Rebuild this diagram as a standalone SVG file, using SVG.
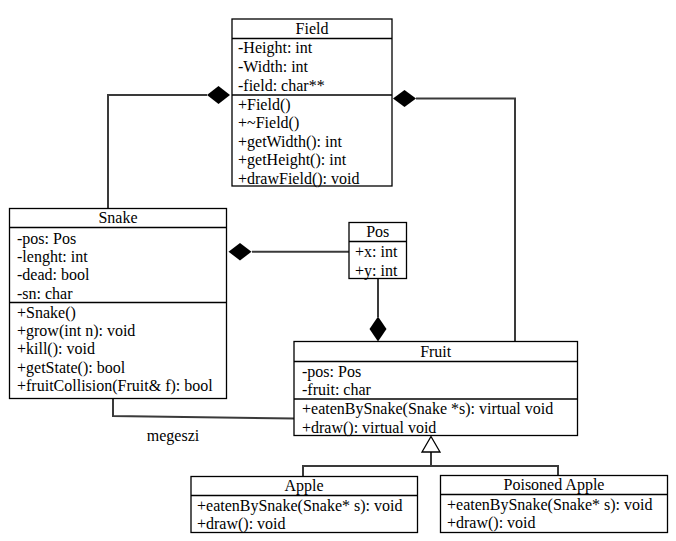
<svg xmlns="http://www.w3.org/2000/svg" width="676" height="541" viewBox="0 0 676 541">
<style>
.box{fill:#fff;stroke:#000;stroke-width:1.3}
.div{stroke:#000;stroke-width:1.3}
text{font-family:"Liberation Serif","Times New Roman",serif;font-size:16px;fill:#000}
.c{text-anchor:middle}
.ln{fill:none;stroke:#3a3a3a;stroke-width:2}
.dia{fill:#000;stroke:none}
</style>
<rect width="676" height="541" fill="#fff"/>
<g id="connectors">
<polyline class="ln" points="207,95 108,95 108,209"/>
<path class="dia" d="M207,95 L218.5,86 L230,95 L218.5,104 Z"/>
<polyline class="ln" points="416,98.5 515,98.5 515,342"/>
<path class="dia" d="M393,98.5 L404.5,90 L416,98.5 L404.5,107 Z"/>
<line class="ln" x1="252" y1="251.7" x2="349" y2="251.7"/>
<path class="dia" d="M228.5,251.7 L240,243 L251.5,251.7 L240,260.4 Z"/>
<line class="ln" x1="378" y1="278" x2="378" y2="317"/>
<path class="dia" d="M378,316.5 L386.5,329 L378,341.5 L369.5,329 Z"/>
<polyline class="ln" points="113,398 113,416 294,418.5"/>
<text class="c" x="173" y="440.5">megeszi</text>
<polyline class="ln" points="303,477 303,466 558,466 558,476"/>
<line class="ln" x1="431" y1="466" x2="431" y2="452"/>
<path d="M431,436.5 L440,452 L422,452 Z" fill="#fff" stroke="#000" stroke-width="1.3"/>
</g>
<g id="Field">
<rect class="box" x="232" y="19" width="160" height="167"/>
<line class="div" x1="232" y1="38.5" x2="392" y2="38.5"/>
<line class="div" x1="232" y1="95" x2="392" y2="95"/>
<text class="c" x="312" y="33.5">Field</text>
<text x="238" y="53">-Height: int</text>
<text x="238" y="72">-Width: int</text>
<text x="238" y="90.5">-field: char**</text>
<text x="238" y="109.5">+Field()</text>
<text x="238" y="128">+~Field()</text>
<text x="238" y="146.5">+getWidth(): int</text>
<text x="238" y="165">+getHeight(): int</text>
<text x="238" y="183.5">+drawField(): void</text>
</g>
<g id="Snake">
<rect class="box" x="9.5" y="208.5" width="217" height="190"/>
<line class="div" x1="9.5" y1="227.5" x2="226.5" y2="227.5"/>
<line class="div" x1="9.5" y1="302.5" x2="226.5" y2="302.5"/>
<text class="c" x="118" y="223">Snake</text>
<text x="17" y="243.5">-pos: Pos</text>
<text x="17" y="262">-lenght: int</text>
<text x="17" y="280">-dead: bool</text>
<text x="17" y="298.5">-sn: char</text>
<text x="17" y="318">+Snake()</text>
<text x="17" y="336">+grow(int n): void</text>
<text x="17" y="354">+kill(): void</text>
<text x="17" y="372.5">+getState(): bool</text>
<text x="17" y="390.5">+fruitCollision(Fruit&amp; f): bool</text>
</g>
<g id="Pos">
<rect class="box" x="349" y="222.5" width="57.5" height="56"/>
<line class="div" x1="349" y1="241.5" x2="406.5" y2="241.5"/>
<text class="c" x="377.7" y="237">Pos</text>
<text x="355" y="257">+x: int</text>
<text x="355" y="275.5">+y: int</text>
</g>
<g id="Fruit">
<rect class="box" x="294" y="341.5" width="283.5" height="94"/>
<line class="div" x1="294" y1="361.5" x2="577.5" y2="361.5"/>
<line class="div" x1="294" y1="399" x2="577.5" y2="399"/>
<text class="c" x="435.7" y="357">Fruit</text>
<text x="302" y="377">-pos: Pos</text>
<text x="302" y="394.5">-fruit: char</text>
<text x="302" y="414">+eatenBySnake(Snake *s): virtual void</text>
<text x="302" y="432.5">+draw(): virtual void</text>
</g>
<g id="Apple">
<rect class="box" x="191" y="476.5" width="226.5" height="56"/>
<line class="div" x1="191" y1="495.5" x2="417.5" y2="495.5"/>
<text class="c" x="304" y="491">Apple</text>
<text x="197" y="510.5">+eatenBySnake(Snake* s): void</text>
<text x="197" y="528.5">+draw(): void</text>
</g>
<g id="PoisonedApple">
<rect class="box" x="440.5" y="475.5" width="227" height="57"/>
<line class="div" x1="440.5" y1="494.5" x2="667.5" y2="494.5"/>
<text class="c" x="554" y="490">Poisoned Apple</text>
<text x="447" y="509.5">+eatenBySnake(Snake* s): void</text>
<text x="447" y="528">+draw(): void</text>
</g>
</svg>
